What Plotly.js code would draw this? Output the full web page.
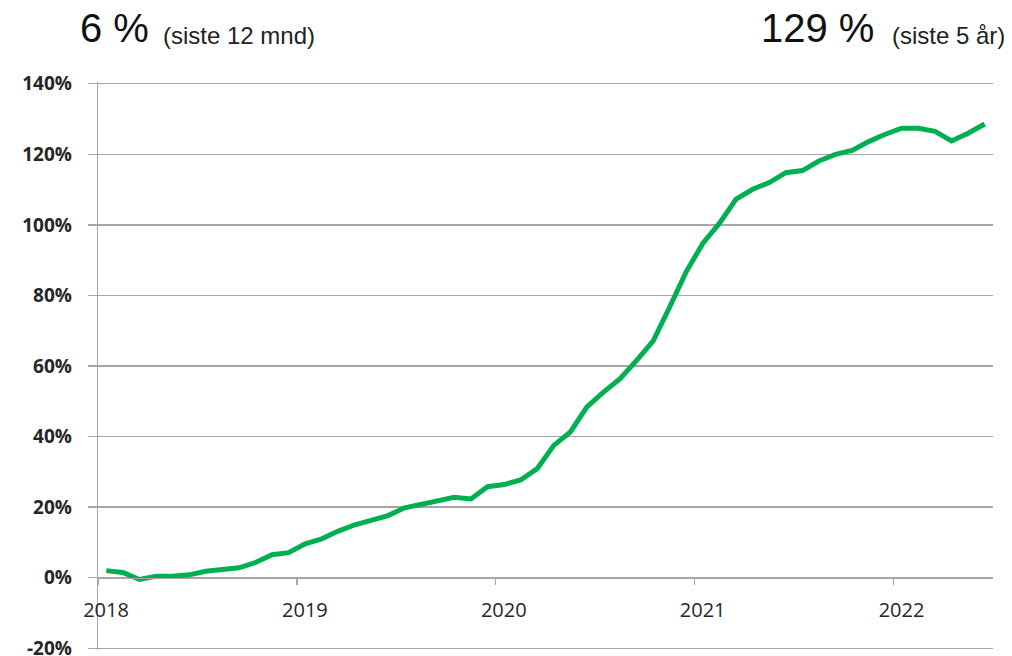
<!DOCTYPE html>
<html>
<head>
<meta charset="utf-8">
<script src="https://cdn.plot.ly/plotly-3.0.1.min.js"></script>
<style>html,body{margin:0;padding:0;background:#fff;}#chart{width:1012px;height:656px;}</style>
</head>
<body>
<div id="chart"></div>
<script>
// Monthly cumulative change (%), Jan 2018 – Jun 2022
const values = [
  2.0, 1.5, -0.5, 0.4, 0.4, 0.8, 1.8, 2.2, 2.8, 4.3, 6.5, 7.1,
  9.6, 11.0, 13.2, 15.0, 16.4, 17.6, 19.8, 20.7, 21.9, 22.8, 22.3, 25.8,
  26.4, 27.7, 30.9, 37.5, 41.3, 48.4, 52.6, 56.4, 61.6, 67.1, 76.8, 86.8,
  94.8, 100.5, 107.3, 110.1, 112.0, 114.8, 115.4, 118.1, 120.0, 121.1, 123.6, 125.7,
  127.4, 127.4, 126.5, 123.8, 126.0, 128.6
];
const yearLabels = ['2018', '2019', '2020', '2021', '2022'];
const yTicks = [-20, 0, 20, 40, 60, 80, 100, 120, 140];
const headline12m = '6 %';
const sub12m = '(siste 12 mnd)';
const headline5y = '129 %';
const sub5y = '(siste 5 år)';

const monthIndex = values.map((_, i) => i);
// year boundaries sit half a month before each January point
const yearTickVals = yearLabels.map((_, k) => k * 12 - 0.5);

const yMin = -20.5, yMax = 140.5;
const grey = '#a6a6a6';
const trace = {
  x: monthIndex,
  y: values,
  type: 'scatter',
  mode: 'lines',
  line: {color: '#00b050', width: 5},
  hoverinfo: 'skip'
};

const titleFont = {family: 'Liberation Sans, Arial, sans-serif', size: 40, color: '#111'};
const subFont = {family: 'Liberation Sans, Arial, sans-serif', size: 24, color: '#222'};

const layout = {
  width: 1012,
  height: 656,
  margin: {l: 98, r: 19, t: 82, b: 6},
  paper_bgcolor: '#fff',
  plot_bgcolor: '#fff',
  showlegend: false,
  xaxis: {
    range: [-0.5, values.length - 0.5],
    tickvals: yearTickVals,
    ticktext: yearLabels,
    ticklabelshift: 8,
    ticks: 'outside',
    ticklen: 6,
    tickcolor: grey,
    tickwidth: 1.3,
    showline: true,
    linecolor: grey,
    linewidth: 1.3,
    showgrid: false,
    zeroline: false,
    anchor: 'free',
    position: (0 - yMin) / (yMax - yMin),
    ticklabelstandoff: 8,
    tickfont: {family: 'Open Sans, sans-serif', size: 20, color: '#262626'},
    fixedrange: true
  },
  yaxis: {
    range: [yMin, yMax],
    tickvals: yTicks,
    ticktext: yTicks.map(v => v + '%'),
    ticks: 'outside',
    ticklen: 9,
    tickcolor: grey,
    tickwidth: 1.3,
    showline: true,
    linecolor: grey,
    linewidth: 1.3,
    showgrid: true,
    gridcolor: grey,
    gridwidth: 1.3,
    zeroline: false,
    ticklabelstandoff: 12,
    ticklabeloverflow: 'allow',
    tickfont: {family: 'Open Sans, sans-serif', size: 19, color: '#262626', weight: 'bold'},
    fixedrange: true
  },
  annotations: [
    {text: headline12m, xref: 'paper', yref: 'paper', x: -0.0223, y: 1.0951, xanchor: 'left', yanchor: 'middle', showarrow: false, font: titleFont},
    {text: sub12m, xref: 'paper', yref: 'paper', x: 0.0704, y: 1.0827, xanchor: 'left', yanchor: 'middle', showarrow: false, font: subFont},
    {text: headline5y, xref: 'paper', yref: 'paper', x: 0.7386, y: 1.0951, xanchor: 'left', yanchor: 'middle', showarrow: false, font: titleFont},
    {text: sub5y, xref: 'paper', yref: 'paper', x: 0.8850, y: 1.0827, xanchor: 'left', yanchor: 'middle', showarrow: false, font: subFont}
  ]
};

Plotly.newPlot('chart', [trace], layout, {displayModeBar: false, staticPlot: true});
</script>
</body>
</html>
